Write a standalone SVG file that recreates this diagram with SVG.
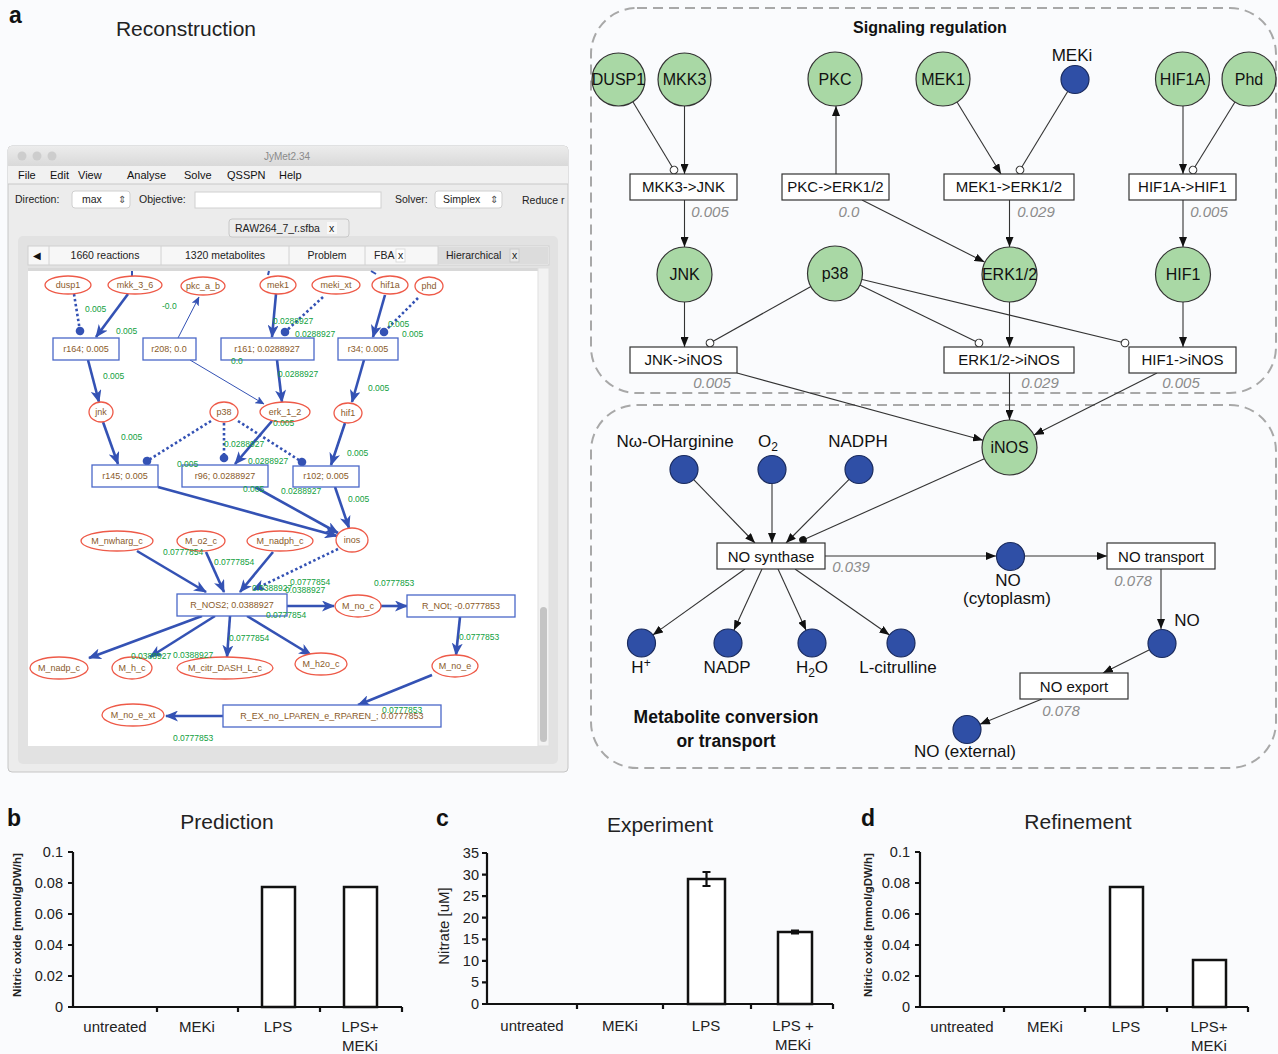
<svg xmlns="http://www.w3.org/2000/svg" width="1278" height="1054" viewBox="0 0 1278 1054">
<defs>
<style>
text{font-family:"Liberation Sans",Arial,sans-serif}
.sn{fill:#fff;stroke:#ee5a48;stroke-width:1.3}
.sr{fill:#fff;stroke:#4a68c8;stroke-width:1.3}
.st{font-size:9px;fill:#8a5a2a;text-anchor:middle}
.sg{font-size:8.5px;fill:#10a040}
.be{stroke:#3452b4;stroke-width:2.6;fill:none;marker-end:url(#arB)}
.bd{stroke:#3452b4;stroke-width:2.6;fill:none;stroke-dasharray:2.5 2.5;marker-end:url(#ballB)}
.bda{stroke:#3452b4;stroke-width:2.6;fill:none;stroke-dasharray:2.5 2.5;marker-end:url(#arB)}
.bt{stroke:#3452b4;stroke-width:1;fill:none;marker-end:url(#arBs)}
.bs{stroke:#3452b4;stroke-width:2;fill:none}
.mt{font-size:11px;fill:#111}
.gn{fill:#a9d8a5;stroke:#333;stroke-width:1.2}
.bn{fill:#2f4fa6;stroke:#1a2b5e;stroke-width:1.2}
.rx{fill:#fff;stroke:#333;stroke-width:1.2}
.nt{font-size:16px;fill:#111;text-anchor:middle}
.lt{font-size:15px;fill:#111;text-anchor:middle}
.ml{font-size:17px;fill:#111;text-anchor:middle}
.fl{font-size:15px;fill:#8c8c8c;font-style:italic;text-anchor:middle}
.e{stroke:#333;stroke-width:1.1;fill:none;marker-end:url(#arK)}
.eo{stroke:#333;stroke-width:1.1;fill:none;marker-end:url(#opC)}
.ed{stroke:#333;stroke-width:1.1;fill:none;marker-end:url(#dotK)}
.reg{fill:none;stroke:#a8a8a8;stroke-width:2;stroke-dasharray:10 6}
.ax{stroke:#111;stroke-width:2.2;fill:none}
.bar{fill:#fff;stroke:#111;stroke-width:2.5}
.tk{font-size:14.5px;fill:#222;text-anchor:end}
.cl{font-size:15px;fill:#222;text-anchor:middle}
.ttl{font-size:21px;fill:#222;text-anchor:middle}
.pl{font-size:23px;font-weight:bold;fill:#111}
</style>
<marker id="arB" markerUnits="userSpaceOnUse" markerWidth="13" markerHeight="11" refX="12" refY="5.5" orient="auto"><path d="M0,0 L13,5.5 L0,11 L3.5,5.5 z" fill="#3452b4"/></marker>
<marker id="arBs" markerUnits="userSpaceOnUse" markerWidth="9" markerHeight="8" refX="8.5" refY="4" orient="auto"><path d="M0,0 L9,4 L0,8 L2,4 z" fill="#3452b4"/></marker>
<marker id="ballB" markerUnits="userSpaceOnUse" markerWidth="10" markerHeight="10" refX="5" refY="5" orient="auto"><circle cx="5" cy="5" r="4.3" fill="#3452b4"/></marker>
<marker id="arK" markerUnits="userSpaceOnUse" markerWidth="10" markerHeight="8" refX="10" refY="4" orient="auto"><path d="M0,0 L10,4 L0,8 z" fill="#111"/></marker>
<marker id="opC" markerUnits="userSpaceOnUse" markerWidth="10" markerHeight="10" refX="5" refY="5" orient="auto"><circle cx="5" cy="5" r="3.8" fill="#fff" stroke="#333" stroke-width="1.1"/></marker>
<marker id="dotK" markerUnits="userSpaceOnUse" markerWidth="10" markerHeight="10" refX="5" refY="5" orient="auto"><circle cx="5" cy="5" r="3.8" fill="#111"/></marker>
<linearGradient id="tb" x1="0" y1="0" x2="0" y2="1"><stop offset="0" stop-color="#ececec"/><stop offset="1" stop-color="#d9d9d9"/></linearGradient>
</defs>
<rect x="0" y="0" width="1278" height="1054" fill="#fafbfd"/>

<!-- Panel a: reconstruction screenshot -->
<text class="pl" x="9" y="23">a</text>
<text x="186" y="36" font-size="21px" fill="#222" text-anchor="middle">Reconstruction</text>

<g id="screenshot">
<rect x="8" y="146" width="560" height="626" rx="4" fill="#ececec" stroke="#c6c6c6"/>
<path d="M12,146 H564 a4,4 0 0 1 4,4 V166 H8 V150 a4,4 0 0 1 4,-4 z" fill="url(#tb)"/>
<circle cx="22" cy="156" r="4.5" fill="#cdcdcd"/><circle cx="37" cy="156" r="4.5" fill="#cdcdcd"/><circle cx="52" cy="156" r="4.5" fill="#cdcdcd"/>
<text x="287" y="160" font-size="10px" fill="#8a8a8a" text-anchor="middle">JyMet2.34</text>
<rect x="8" y="166" width="560" height="18" fill="#f1f1f1"/>
<line x1="8" y1="184" x2="568" y2="184" stroke="#c8c8c8"/>
<text class="mt" x="18" y="179">File</text><text class="mt" x="50" y="179">Edit</text><text class="mt" x="78" y="179">View</text><text class="mt" x="127" y="179">Analyse</text><text class="mt" x="184" y="179">Solve</text><text class="mt" x="227" y="179">QSSPN</text><text class="mt" x="279" y="179">Help</text>
<text x="15" y="203" font-size="10.5px" fill="#222">Direction:</text>
<rect x="72" y="191" width="58" height="17" rx="3" fill="#fff" stroke="#d0d0d0"/>
<text x="82" y="203" font-size="10.5px" fill="#222">max</text><text x="118" y="203" font-size="10px" fill="#555">⇕</text>
<text x="139" y="203" font-size="10.5px" fill="#222">Objective:</text>
<rect x="195" y="192" width="186" height="16" fill="#fff" stroke="#d0d0d0"/>
<text x="395" y="203" font-size="10.5px" fill="#222">Solver:</text>
<rect x="435" y="191" width="67" height="17" rx="3" fill="#fff" stroke="#d0d0d0"/>
<text x="443" y="203" font-size="10.5px" fill="#222">Simplex</text><text x="490" y="203" font-size="10px" fill="#555">⇕</text>
<text x="522" y="204" font-size="10.5px" fill="#222">Reduce r</text>
<rect x="18" y="236" width="540" height="528" rx="5" fill="#e2e2e2"/>
<rect x="229" y="219" width="120" height="18" rx="3" fill="#ececec" stroke="#c8c8c8"/>
<text x="235" y="232" font-size="10.5px" fill="#222">RAW264_7_r.sfba</text><rect x="327" y="222" width="10" height="12" fill="#f8f8f8"/><text x="329" y="232" font-size="10.5px" fill="#222">x</text>
<rect x="28" y="246" width="521" height="19" fill="#f7f7f7" stroke="#cfcfcf"/>
<rect x="438" y="247" width="110" height="17" fill="#dcdcdc"/>
<g stroke="#d2d2d2"><line x1="49" y1="246" x2="49" y2="265"/><line x1="161" y1="246" x2="161" y2="265"/><line x1="289" y1="246" x2="289" y2="265"/><line x1="365" y1="246" x2="365" y2="265"/><line x1="438" y1="246" x2="438" y2="265"/></g>
<text x="33" y="259" font-size="10px" fill="#111">◀</text>
<text x="105" y="259" font-size="10.5px" fill="#222" text-anchor="middle">1660 reactions</text>
<text x="225" y="259" font-size="10.5px" fill="#222" text-anchor="middle">1320 metabolites</text>
<text x="327" y="259" font-size="10.5px" fill="#222" text-anchor="middle">Problem</text>
<text x="374" y="259" font-size="10.5px" fill="#222">FBA</text><rect x="396" y="249" width="9" height="13" fill="#fff" stroke="#ddd"/><text x="398" y="259" font-size="10.5px" fill="#222">x</text>
<text x="446" y="259" font-size="10.5px" fill="#222">Hierarchical</text><rect x="510" y="249" width="9" height="13" fill="#e8e8e8" stroke="#ccc"/><text x="512" y="259" font-size="10.5px" fill="#222">x</text>
<rect x="28" y="268" width="510" height="478" fill="#fff"/>
<rect x="28" y="268" width="510" height="3" fill="#d8d8d8"/>
<rect x="538" y="268" width="11" height="478" fill="#f2f2f2" stroke="#e0e0e0"/>
<rect x="540" y="607" width="7" height="135" rx="3.5" fill="#c4c4c4"/>
</g>

<g id="screen-edges">
<line class="bs" x1="132" y1="271" x2="132" y2="276"/><line class="bs" x1="269" y1="271" x2="268" y2="275"/><line class="bs" x1="371" y1="271" x2="376" y2="274"/>
<path class="be" d="M128,294 L96,337"/>
<path class="bd" d="M74,294 L80,331"/>
<path class="be" d="M88,360 L99,402"/>
<path class="bt" d="M178,338 L199,297"/>
<path class="bt" d="M190,360 L264,404"/>
<path class="be" d="M276,294 L272,337"/>
<path class="bd" d="M323,297 L285,332"/>
<path class="be" d="M277,360 L282,402"/>
<path class="be" d="M385,295 L373,337"/>
<path class="bd" d="M418,298 L384,332"/>
<path class="be" d="M364,360 L352,402"/>
<path class="be" d="M103,422 L118,464"/>
<path class="bd" d="M211,421 L147,461"/>
<path class="bd" d="M224,423 L224,458"/>
<path class="be" d="M272,421 L235,464"/>
<path class="bd" d="M238,421 L302,462"/>
<path class="be" d="M345,423 L331,465"/>
<path class="be" d="M158,487 L337,536"/>
<path class="be" d="M255,487 L338,533"/>
<path class="be" d="M335,487 L349,528"/>
<path class="be" d="M137,551 L206,592"/>
<path class="be" d="M206,552 L224,592"/>
<path class="be" d="M273,552 L240,592"/>
<path class="bda" d="M338,549 L253,590"/>
<path class="be" d="M287,606 L334,606"/>
<path class="be" d="M381,606 L407,606"/>
<path class="be" d="M460,617 L456,655"/>
<path class="be" d="M202,616 L89,658"/>
<path class="be" d="M215,616 L150,657"/>
<path class="be" d="M230,616 L227,657"/>
<path class="be" d="M247,616 L311,655"/>
<path class="be" d="M432,675 L358,705"/>
<path class="be" d="M223,716 L166,716"/>
</g>

<g id="screen-nodes">
<g id="s-dusp1"><ellipse class="sn" cx="68" cy="285" rx="23" ry="9"/><text class="st" x="68" y="288">dusp1</text></g>
<g id="s-mkk"><ellipse class="sn" cx="135" cy="285" rx="27" ry="9"/><text class="st" x="135" y="288">mkk_3_6</text></g>
<g id="s-pkc"><ellipse class="sn" cx="203" cy="286" rx="22" ry="9"/><text class="st" x="203" y="289">pkc_a_b</text></g>
<g id="s-mek1"><ellipse class="sn" cx="278" cy="285" rx="18" ry="9"/><text class="st" x="278" y="288">mek1</text></g>
<g id="s-meki"><ellipse class="sn" cx="336" cy="285" rx="24" ry="9"/><text class="st" x="336" y="288">meki_xt</text></g>
<g id="s-hif1a"><ellipse class="sn" cx="390" cy="285" rx="18" ry="9"/><text class="st" x="390" y="288">hif1a</text></g>
<g id="s-phd"><ellipse class="sn" cx="429" cy="286" rx="14" ry="9"/><text class="st" x="429" y="289">phd</text></g>
<g id="s-r164"><rect class="sr" x="53" y="338" width="66" height="22"/><text class="st" x="86" y="352">r164; 0.005</text></g>
<g id="s-r208"><rect class="sr" x="143" y="338" width="53" height="22"/><text class="st" x="169" y="352">r208; 0.0</text></g>
<g id="s-r161"><rect class="sr" x="221" y="338" width="93" height="22"/><text class="st" x="267" y="352">r161; 0.0288927</text></g>
<g id="s-r34"><rect class="sr" x="338" y="338" width="60" height="22"/><text class="st" x="368" y="352">r34; 0.005</text></g>
<g id="s-jnk"><ellipse class="sn" cx="101" cy="412" rx="12" ry="10"/><text class="st" x="101" y="415">jnk</text></g>
<g id="s-p38"><ellipse class="sn" cx="224" cy="412" rx="14" ry="10"/><text class="st" x="224" y="415">p38</text></g>
<g id="s-erk"><ellipse class="sn" cx="285" cy="412" rx="25" ry="10"/><text class="st" x="285" y="415">erk_1_2</text></g>
<g id="s-hif1"><ellipse class="sn" cx="348" cy="413" rx="14" ry="10"/><text class="st" x="348" y="416">hif1</text></g>
<g id="s-r145"><rect class="sr" x="92" y="465" width="66" height="22"/><text class="st" x="125" y="479">r145; 0.005</text></g>
<g id="s-r96"><rect class="sr" x="182" y="465" width="86" height="22"/><text class="st" x="225" y="479">r96; 0.0288927</text></g>
<g id="s-r102"><rect class="sr" x="293" y="466" width="66" height="21"/><text class="st" x="326" y="479">r102; 0.005</text></g>
<g id="s-nwharg"><ellipse class="sn" cx="117" cy="541" rx="36" ry="10"/><text class="st" x="117" y="544">M_nwharg_c</text></g>
<g id="s-o2"><ellipse class="sn" cx="201" cy="541" rx="24" ry="10"/><text class="st" x="201" y="544">M_o2_c</text></g>
<g id="s-nadph"><ellipse class="sn" cx="280" cy="541" rx="33" ry="10"/><text class="st" x="280" y="544">M_nadph_c</text></g>
<g id="s-inos"><ellipse class="sn" cx="352" cy="540" rx="16" ry="12"/><text class="st" x="352" y="543">inos</text></g>
<g id="s-nos2"><rect class="sr" x="177" y="594" width="110" height="22"/><text class="st" x="232" y="608">R_NOS2; 0.0388927</text></g>
<g id="s-noc"><ellipse class="sn" cx="358" cy="606" rx="23" ry="11"/><text class="st" x="358" y="609">M_no_c</text></g>
<g id="s-not"><rect class="sr" x="407" y="595" width="108" height="22"/><text class="st" x="461" y="609">R_NOt; -0.0777853</text></g>
<g id="s-nadp"><ellipse class="sn" cx="59" cy="668" rx="29" ry="11"/><text class="st" x="59" y="671">M_nadp_c</text></g>
<g id="s-h"><ellipse class="sn" cx="132" cy="668" rx="20" ry="11"/><text class="st" x="132" y="671">M_h_c</text></g>
<g id="s-citr"><ellipse class="sn" cx="225" cy="668" rx="48" ry="11"/><text class="st" x="225" y="671">M_citr_DASH_L_c</text></g>
<g id="s-h2o"><ellipse class="sn" cx="321" cy="664" rx="26" ry="11"/><text class="st" x="321" y="667">M_h2o_c</text></g>
<g id="s-noe"><ellipse class="sn" cx="455" cy="666" rx="23" ry="11"/><text class="st" x="455" y="669">M_no_e</text></g>
<g id="s-noext"><ellipse class="sn" cx="133" cy="715" rx="31" ry="11"/><text class="st" x="133" y="718">M_no_e_xt</text></g>
<g id="s-rex"><rect class="sr" x="223" y="705" width="218" height="22"/><text class="st" x="332" y="719">R_EX_no_LPAREN_e_RPAREN_; 0.0777853</text></g>
</g>

<g id="screen-labels">
<text class="sg" x="85" y="312">0.005</text>
<text class="sg" x="116" y="334">0.005</text>
<text class="sg" x="103" y="379">0.005</text>
<text class="sg" x="162" y="309">-0.0</text>
<text class="sg" x="273" y="324">0.0288927</text>
<text class="sg" x="295" y="337">0.0288927</text>
<text class="sg" x="231" y="364">0.0</text>
<text class="sg" x="278" y="377">0.0288927</text>
<text class="sg" x="388" y="327">0.005</text>
<text class="sg" x="402" y="337">0.005</text>
<text class="sg" x="368" y="391">0.005</text>
<text class="sg" x="121" y="440">0.005</text>
<text class="sg" x="273" y="426">0.005</text>
<text class="sg" x="224" y="447">0.0288927</text>
<text class="sg" x="177" y="467">0.005</text>
<text class="sg" x="248" y="464">0.0288927</text>
<text class="sg" x="347" y="456">0.005</text>
<text class="sg" x="243" y="492">0.005</text>
<text class="sg" x="281" y="494">0.0288927</text>
<text class="sg" x="348" y="502">0.005</text>
<text class="sg" x="163" y="555">0.0777854</text>
<text class="sg" x="214" y="565">0.0777854</text>
<text class="sg" x="252" y="591">0.0388927</text>
<text class="sg" x="290" y="585">0.0777854</text>
<text class="sg" x="285" y="593">0.0388927</text>
<text class="sg" x="266" y="618">0.0777854</text>
<text class="sg" x="374" y="586">0.0777853</text>
<text class="sg" x="459" y="640">0.0777853</text>
<text class="sg" x="131" y="659">0.0388927</text>
<text class="sg" x="173" y="658">0.0388927</text>
<text class="sg" x="229" y="641">0.0777854</text>
<text class="sg" x="382" y="713">0.0777853</text>
<text class="sg" x="173" y="741">0.0777853</text>
</g>

<!-- Signaling / metabolite diagram -->
<rect class="reg" x="591" y="8" width="685" height="385" rx="46"/>
<rect class="reg" x="591" y="405" width="685" height="363" rx="46"/>
<text x="930" y="33" font-size="16px" font-weight="bold" fill="#111" text-anchor="middle">Signaling regulation</text>
<text x="726" y="723" font-size="17.5px" font-weight="bold" fill="#111" text-anchor="middle">Metabolite conversion</text>
<text x="726" y="747" font-size="17.5px" font-weight="bold" fill="#111" text-anchor="middle">or transport</text>

<g id="connectors">
<path class="eo" d="M633,102 L674,170"/>
<path class="e" d="M684.5,106 L684.5,174"/>
<path class="e" d="M836,174 L836,106"/>
<path class="e" d="M862,200 L984.5,262"/>
<path class="e" d="M957,102 L1001,174"/>
<path class="eo" d="M1067.7,91.5 L1020,170"/>
<path class="e" d="M1183,106 L1183,174"/>
<path class="eo" d="M1235,102 L1193,170"/>
<path class="e" d="M684.5,200 L684.5,247"/>
<path class="e" d="M1009.5,200 L1009.5,247"/>
<path class="e" d="M1183,200 L1183,247"/>
<path class="e" d="M684.5,302 L684.5,347"/>
<path class="eo" d="M811.4,286.2 L710,343"/>
<path class="eo" d="M859.3,284.8 L979,343"/>
<path class="eo" d="M861.2,279.3 L1125,343"/>
<path class="e" d="M1009.5,302 L1009.5,347"/>
<path class="e" d="M1183,302 L1183,347"/>
<path class="e" d="M737,373 L983,440.2"/>
<path class="e" d="M1009.5,373 L1009.5,420"/>
<path class="e" d="M1157,373 L1034,435"/>
<path class="ed" d="M984.4,458.7 L803,540"/>
<path class="e" d="M693.7,479.6 L755,543"/>
<path class="e" d="M772,484 L772,543"/>
<path class="e" d="M849.1,479.4 L786,543"/>
<path class="e" d="M745,569 L652.9,634.9"/>
<path class="e" d="M762,569 L733.9,630.3"/>
<path class="e" d="M778,569 L806.1,630.3"/>
<path class="e" d="M795,569 L889.5,635"/>
<path class="e" d="M825,556 L996,556"/>
<path class="e" d="M1024,556 L1107,556"/>
<path class="e" d="M1161,569 L1161,629"/>
<path class="e" d="M1149.5,649.8 L1103,673"/>
<path class="e" d="M1042,699 L980,724.2"/>
</g>

<g id="n-DUSP1"><circle class="gn" cx="618.5" cy="79.5" r="26.5"/><text class="nt" x="618.5" y="85" font-size="15px">DUSP1</text></g>
<g id="n-MKK3"><circle class="gn" cx="684.5" cy="79.5" r="26.5"/><text class="nt" x="684.5" y="85">MKK3</text></g>
<g id="n-PKC"><circle class="gn" cx="835" cy="79" r="27"/><text class="nt" x="835" y="85">PKC</text></g>
<g id="n-MEK1"><circle class="gn" cx="943" cy="79" r="27"/><text class="nt" x="943" y="85">MEK1</text></g>
<g id="n-MEKi"><circle class="bn" cx="1075" cy="79.5" r="14"/><text class="ml" x="1072" y="61">MEKi</text></g>
<g id="n-HIF1A"><circle class="gn" cx="1182.5" cy="79" r="27"/><text class="nt" x="1182.5" y="85">HIF1A</text></g>
<g id="n-Phd"><circle class="gn" cx="1249" cy="79" r="27"/><text class="nt" x="1249" y="85">Phd</text></g>
<g id="r-MKK3JNK"><rect class="rx" x="630" y="174" width="107" height="26"/><text class="lt" x="683.5" y="192">MKK3-&gt;JNK</text><text class="fl" x="710" y="217">0.005</text></g>
<g id="r-PKCERK"><rect class="rx" x="782" y="174" width="107" height="26"/><text class="lt" x="835.5" y="192">PKC-&gt;ERK1/2</text><text class="fl" x="849" y="217">0.0</text></g>
<g id="r-MEK1ERK"><rect class="rx" x="944" y="174" width="130" height="26"/><text class="lt" x="1009" y="192">MEK1-&gt;ERK1/2</text><text class="fl" x="1036" y="217">0.029</text></g>
<g id="r-HIF1AHIF1"><rect class="rx" x="1129" y="174" width="107" height="26"/><text class="lt" x="1182.5" y="192">HIF1A-&gt;HIF1</text><text class="fl" x="1209" y="217">0.005</text></g>
<g id="n-JNK"><circle class="gn" cx="684.5" cy="274.5" r="27.5"/><text class="nt" x="684.5" y="280">JNK</text></g>
<g id="n-p38"><circle class="gn" cx="835" cy="273.5" r="27.5"/><text class="nt" x="835" y="279">p38</text></g>
<g id="n-ERK"><circle class="gn" cx="1009.5" cy="274.5" r="27.5"/><text class="nt" x="1009.5" y="280">ERK1/2</text></g>
<g id="n-HIF1"><circle class="gn" cx="1183" cy="274.5" r="27.5"/><text class="nt" x="1183" y="280">HIF1</text></g>
<g id="r-JNKiNOS"><rect class="rx" x="630" y="347" width="107" height="26"/><text class="lt" x="683.5" y="365">JNK-&gt;iNOS</text><text class="fl" x="712" y="388">0.005</text></g>
<g id="r-ERKiNOS"><rect class="rx" x="944" y="347" width="130" height="26"/><text class="lt" x="1009" y="365">ERK1/2-&gt;iNOS</text><text class="fl" x="1040" y="388">0.029</text></g>
<g id="r-HIF1iNOS"><rect class="rx" x="1129" y="347" width="107" height="26"/><text class="lt" x="1182.5" y="365">HIF1-&gt;iNOS</text><text class="fl" x="1181" y="388">0.005</text></g>
<g id="n-iNOS"><circle class="gn" cx="1009.5" cy="447.5" r="27.5"/><text class="nt" x="1009.5" y="453">iNOS</text></g>
<g id="n-Nw"><circle class="bn" cx="684" cy="469.5" r="14"/><text class="ml" x="675" y="447">Nω-OHarginine</text></g>
<g id="n-O2"><circle class="bn" cx="772" cy="469.5" r="14"/><text class="ml" x="768" y="447">O<tspan font-size="12px" dy="4">2</tspan></text></g>
<g id="n-NADPH"><circle class="bn" cx="859" cy="469.5" r="14"/><text class="ml" x="858" y="447">NADPH</text></g>
<g id="r-NOS"><rect class="rx" x="717" y="543" width="108" height="26"/><text class="lt" x="771" y="562">NO synthase</text><text class="fl" x="851" y="572">0.039</text></g>
<g id="n-H"><circle class="bn" cx="641.5" cy="643" r="14"/><text class="ml" x="641" y="673">H<tspan font-size="12px" dy="-6">+</tspan></text></g>
<g id="n-NADP"><circle class="bn" cx="728" cy="643" r="14"/><text class="ml" x="727" y="673">NADP</text></g>
<g id="n-H2O"><circle class="bn" cx="812" cy="643" r="14"/><text class="ml" x="812" y="673">H<tspan font-size="12px" dy="4">2</tspan><tspan dy="-4">O</tspan></text></g>
<g id="n-Lcit"><circle class="bn" cx="901" cy="643" r="14"/><text class="ml" x="898" y="673">L-citrulline</text></g>
<g id="n-NOc"><circle class="bn" cx="1010.5" cy="556.5" r="14"/><text class="ml" x="1008" y="586">NO</text><text class="ml" x="1007" y="604">(cytoplasm)</text></g>
<g id="r-NOt"><rect class="rx" x="1107" y="543" width="108" height="26"/><text class="lt" x="1161" y="562">NO transport</text><text class="fl" x="1133" y="586">0.078</text></g>
<g id="n-NO"><circle class="bn" cx="1162" cy="643.5" r="14"/><text class="ml" x="1187" y="626">NO</text></g>
<g id="r-NOe"><rect class="rx" x="1020" y="673" width="108" height="26"/><text class="lt" x="1074" y="692">NO export</text><text class="fl" x="1061" y="716">0.078</text></g>
<g id="n-NOext"><circle class="bn" cx="967" cy="729.5" r="14"/><text class="ml" x="965" y="757">NO (external)</text></g>

<!-- Panel b -->
<g id="chart-b">
<text class="pl" x="7" y="826">b</text>
<text class="ttl" x="227" y="829">Prediction</text>
<text transform="translate(21,925) rotate(-90)" font-size="11.5px" font-weight="bold" fill="#222" text-anchor="middle">Nitric oxide [mmol/gDW/h]</text>
<path class="ax" d="M73,852 V1007 H402"/>
<path class="ax" d="M68,852 H73 M68,883 H73 M68,914 H73 M68,945 H73 M68,976 H73 M68,1007 H73 M157,1007 V1012 M238,1007 V1012 M320,1007 V1012 M402,1007 V1012"/>
<text class="tk" x="63" y="857">0.1</text><text class="tk" x="63" y="888">0.08</text><text class="tk" x="63" y="919">0.06</text><text class="tk" x="63" y="950">0.04</text><text class="tk" x="63" y="981">0.02</text><text class="tk" x="63" y="1012">0</text>
<rect class="bar" x="262" y="887" width="33" height="120"/>
<rect class="bar" x="344" y="887" width="33" height="120"/>
<text class="cl" x="115" y="1032">untreated</text><text class="cl" x="197" y="1032">MEKi</text><text class="cl" x="278" y="1032">LPS</text><text class="cl" x="360" y="1032">LPS+</text><text class="cl" x="360" y="1051">MEKi</text>
</g>

<!-- Panel c -->
<g id="chart-c">
<text class="pl" x="436" y="826">c</text>
<text class="ttl" x="660" y="832">Experiment</text>
<text transform="translate(449,926) rotate(-90)" font-size="15px" fill="#222" text-anchor="middle">Nitrate [uM]</text>
<path class="ax" d="M487,853 V1004 H833"/>
<path class="ax" d="M482,853 H487 M482,874.6 H487 M482,896.1 H487 M482,917.7 H487 M482,939.3 H487 M482,960.9 H487 M482,982.4 H487 M482,1004 H487 M577,1004 V1009 M663,1004 V1009 M751,1004 V1009 M833,1004 V1009"/>
<g><text class="tk" x="479" y="858" font-size="13px">35</text><text class="tk" x="479" y="879.6" font-size="13px">30</text><text class="tk" x="479" y="901" font-size="13px">25</text><text class="tk" x="479" y="922.7" font-size="13px">20</text><text class="tk" x="479" y="944.3" font-size="13px">15</text><text class="tk" x="479" y="965.9" font-size="13px">10</text><text class="tk" x="479" y="987.4" font-size="13px">5</text><text class="tk" x="479" y="1009" font-size="13px">0</text></g>
<rect class="bar" x="688" y="879" width="37" height="125"/>
<rect class="bar" x="778" y="932" width="34" height="72"/>
<path d="M706.5,872 V886 M702.5,872 H710.5 M702.5,886 H710.5" stroke="#111" stroke-width="2.2" fill="none"/>
<path d="M795,930.5 V933.5 M791,930.5 H799 M791,933.5 H799" stroke="#111" stroke-width="2.2" fill="none"/>
<text class="cl" x="532" y="1031">untreated</text><text class="cl" x="620" y="1031">MEKi</text><text class="cl" x="706" y="1031">LPS</text><text class="cl" x="793" y="1031">LPS +</text><text class="cl" x="793" y="1050">MEKi</text>
</g>

<!-- Panel d -->
<g id="chart-d">
<text class="pl" x="861" y="826">d</text>
<text class="ttl" x="1078" y="829">Refinement</text>
<text transform="translate(872,925) rotate(-90)" font-size="11.5px" font-weight="bold" fill="#222" text-anchor="middle">Nitric oxide [mmol/gDW/h]</text>
<path class="ax" d="M920,852 V1007 H1248"/>
<path class="ax" d="M915,852 H920 M915,883 H920 M915,914 H920 M915,945 H920 M915,976 H920 M915,1007 H920 M1004,1007 V1012 M1085,1007 V1012 M1167,1007 V1012 M1248,1007 V1012"/>
<text class="tk" x="910" y="857">0.1</text><text class="tk" x="910" y="888">0.08</text><text class="tk" x="910" y="919">0.06</text><text class="tk" x="910" y="950">0.04</text><text class="tk" x="910" y="981">0.02</text><text class="tk" x="910" y="1012">0</text>
<rect class="bar" x="1110" y="887" width="33" height="120"/>
<rect class="bar" x="1193" y="960" width="33" height="47"/>
<text class="cl" x="962" y="1032">untreated</text><text class="cl" x="1045" y="1032">MEKi</text><text class="cl" x="1126" y="1032">LPS</text><text class="cl" x="1209" y="1032">LPS+</text><text class="cl" x="1209" y="1051">MEKi</text>
</g>
</svg>
